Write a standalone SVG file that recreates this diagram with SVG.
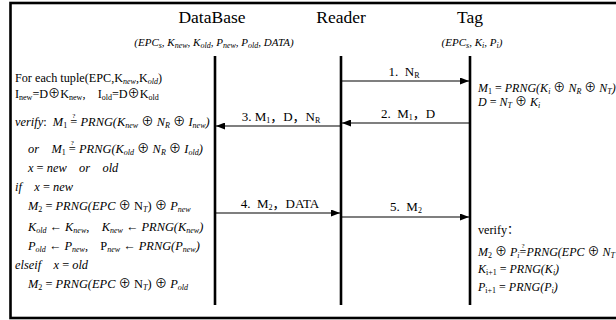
<svg xmlns="http://www.w3.org/2000/svg" width="616" height="320" viewBox="0 0 616 320">
<defs>
<style>
.t{font-family:"Liberation Serif","Times New Roman","Noto Sans CJK SC",serif;fill:#000;white-space:pre}
.h{font-size:17.5px}
.m{font-size:12.4px;font-style:italic}
.mr{font-size:12px;font-style:italic}
.rg{font-size:12.2px}
.up{font-style:normal}
.sb{font-size:8px}
.q{font-size:7px;font-style:normal}
.sm{font-size:11px;font-style:italic}
.lab{font-size:13px}
.life{stroke:#000;stroke-width:2.6}
.msg{stroke:#000;stroke-width:1.2;fill:none;marker-end:url(#ah)}
</style>
<marker id="ah" markerUnits="userSpaceOnUse" markerWidth="9" markerHeight="7" refX="9" refY="3.5" orient="auto">
<path d="M0,0 L9,3.5 L0,7 z" fill="#000"/>
</marker>
</defs>
<rect width="616" height="320" fill="#fff"/>
<rect x="10.5" y="3" width="640" height="315" fill="none" stroke="#000" stroke-width="2.6"/>

<g id="database">
<text class="t h" x="212" y="23" text-anchor="middle">DataBase</text>
<text class="t sm" x="214" y="46" text-anchor="middle">(EPC<tspan class="sb" dy="2">s</tspan><tspan dy="-2">, K</tspan><tspan class="sb" dy="2">new</tspan><tspan dy="-2">, K</tspan><tspan class="sb" dy="2">old</tspan><tspan dy="-2">, P</tspan><tspan class="sb" dy="2">new</tspan><tspan dy="-2">, P</tspan><tspan class="sb" dy="2">old</tspan><tspan dy="-2">, DATA)</tspan></text>
<line class="life" x1="215" y1="56" x2="215" y2="305"/>
<text class="t rg" x="15" y="82">For each tuple(EPC,K<tspan class="sb" dy="2" font-style="italic">new</tspan><tspan dy="-2">,K</tspan><tspan class="sb" dy="2" font-style="italic">old</tspan><tspan dy="-2">)</tspan></text>
<text class="t rg" x="15" y="98">I<tspan class="sb" dy="2">new</tspan><tspan dy="-2">=D⊕K</tspan><tspan class="sb" dy="2">new</tspan><tspan dy="-2">,    I</tspan><tspan class="sb" dy="2">old</tspan><tspan dy="-2">=D⊕K</tspan><tspan class="sb" dy="2">old</tspan></text>
<text class="t m" x="15" y="126">verify<tspan class="up">:  </tspan>M<tspan class="sb up" dy="2">1</tspan><tspan class="up" dy="-2"> =</tspan><tspan class="q" dx="-5" dy="-8">?</tspan><tspan dx="2" dy="8"> PRNG(K</tspan><tspan class="sb" dy="2">new</tspan><tspan class="up" dy="-2"> ⊕ </tspan>N<tspan class="sb" dy="2">R</tspan><tspan class="up" dy="-2"> ⊕ </tspan>I<tspan class="sb" dy="2">new</tspan><tspan dy="-2">)</tspan></text>
<text class="t m" x="28" y="153">or    M<tspan class="sb up" dy="2">1</tspan><tspan class="up" dy="-2"> =</tspan><tspan class="q" dx="-5" dy="-8">?</tspan><tspan dx="2" dy="8"> PRNG(K</tspan><tspan class="sb" dy="2">old</tspan><tspan class="up" dy="-2"> ⊕ </tspan>N<tspan class="sb" dy="2">R</tspan><tspan class="up" dy="-2"> ⊕ </tspan>I<tspan class="sb" dy="2">old</tspan><tspan dy="-2">)</tspan></text>
<text class="t m" x="28" y="172">x<tspan class="up"> = </tspan>new    or    old</text>
<text class="t m" x="15" y="191">if    x<tspan class="up"> = </tspan>new</text>
<text class="t m" x="28" y="210">M<tspan class="sb up" dy="2">2</tspan><tspan class="up" dy="-2"> = </tspan>PRNG(EPC<tspan class="up"> ⊕ N</tspan><tspan class="sb" dy="2">T</tspan><tspan class="up" dy="-2">) ⊕ </tspan>P<tspan class="sb" dy="2">new</tspan></text>
<text class="t m" x="28" y="231">K<tspan class="sb" dy="2">old</tspan><tspan class="up" dy="-2"> ← </tspan>K<tspan class="sb" dy="2">new</tspan><tspan class="up" dy="-2">,    </tspan>K<tspan class="sb" dy="2">new</tspan><tspan class="up" dy="-2"> ← </tspan>PRNG(K<tspan class="sb" dy="2">new</tspan><tspan dy="-2">)</tspan></text>
<text class="t m" x="28" y="250">P<tspan class="sb" dy="2">old</tspan><tspan class="up" dy="-2"> ← </tspan>P<tspan class="sb" dy="2">new</tspan><tspan class="up" dy="-2">,    P</tspan><tspan class="sb" dy="2">new</tspan><tspan class="up" dy="-2"> ← </tspan>PRNG(P<tspan class="sb" dy="2">new</tspan><tspan dy="-2">)</tspan></text>
<text class="t m" x="15" y="269">elseif    x<tspan class="up"> = </tspan>old</text>
<text class="t m" x="28" y="288">M<tspan class="sb up" dy="2">2</tspan><tspan class="up" dy="-2"> = </tspan>PRNG(EPC<tspan class="up"> ⊕ N</tspan><tspan class="sb" dy="2">T</tspan><tspan class="up" dy="-2">) ⊕ </tspan>P<tspan class="sb" dy="2">old</tspan></text>
</g>

<g id="reader">
<text class="t h" x="341" y="23" text-anchor="middle">Reader</text>
<line class="life" x1="341" y1="56" x2="341" y2="305"/>
</g>

<g id="tag">
<text class="t h" x="470" y="23" text-anchor="middle">Tag</text>
<text class="t sm" x="472" y="46" text-anchor="middle">(EPC<tspan class="sb" dy="2">s</tspan><tspan dy="-2">, K</tspan><tspan class="sb" dy="2">i</tspan><tspan dy="-2">, P</tspan><tspan class="sb" dy="2">i</tspan><tspan dy="-2">)</tspan></text>
<line class="life" x1="470" y1="56" x2="470" y2="305"/>
<text class="t mr" x="478" y="92">M<tspan class="sb up" dy="2">1</tspan><tspan class="up" dy="-2"> = </tspan>PRNG(K<tspan class="sb" dy="2">i</tspan><tspan class="up" dy="-2"> ⊕ </tspan>N<tspan class="sb" dy="2">R</tspan><tspan class="up" dy="-2"> ⊕ </tspan>N<tspan class="sb" dy="2">T</tspan><tspan dy="-2">)</tspan></text>
<text class="t mr" x="478" y="106">D<tspan class="up"> = </tspan>N<tspan class="sb" dy="2">T</tspan><tspan class="up" dy="-2"> ⊕ </tspan>K<tspan class="sb" dy="2">i</tspan></text>
<text class="t rg" x="478" y="234">verify：</text>
<text class="t mr" x="478" y="256">M<tspan class="sb up" dy="2">2</tspan><tspan class="up" dy="-2"> ⊕ </tspan>P<tspan class="sb" dy="2">i</tspan><tspan class="up" dy="-2">=</tspan><tspan class="q" dx="-5" dy="-8">?</tspan><tspan dx="2" dy="8">PRNG(EPC</tspan><tspan class="up"> ⊕ </tspan>N<tspan class="sb" dy="2">T</tspan></text>
<text class="t mr" x="478" y="273">K<tspan class="sb up" dy="2">i+1</tspan><tspan class="up" dy="-2"> = </tspan>PRNG(K<tspan class="sb" dy="2">i</tspan><tspan dy="-2">)</tspan></text>
<text class="t mr" x="478" y="291">P<tspan class="sb up" dy="2">i+1</tspan><tspan class="up" dy="-2"> = </tspan>PRNG(P<tspan class="sb" dy="2">i</tspan><tspan dy="-2">)</tspan></text>
</g>

<g id="connectors">
<line class="msg" x1="341" y1="81" x2="469" y2="81"/>
<text class="t lab" x="404" y="76" text-anchor="middle">1.  N<tspan class="sb" dy="1.5">R</tspan></text>
<line class="msg" x1="470" y1="123" x2="342" y2="123"/>
<text class="t lab" x="408" y="118" text-anchor="middle">2.  M<tspan class="sb" dy="1.5">1</tspan><tspan dy="-1.5">，D</tspan></text>
<line class="msg" x1="341" y1="126" x2="216" y2="126"/>
<text class="t lab" x="281" y="121" text-anchor="middle">3. M<tspan class="sb" dy="1.5">1</tspan><tspan dy="-1.5">，D，N</tspan><tspan class="sb" dy="1.5">R</tspan></text>
<line class="msg" x1="215" y1="213" x2="340" y2="213"/>
<text class="t lab" x="280" y="208" text-anchor="middle">4.  M<tspan class="sb" dy="1.5">2</tspan><tspan dy="-1.5">，DATA</tspan></text>
<line class="msg" x1="341" y1="217" x2="469" y2="217"/>
<text class="t lab" x="406" y="211" text-anchor="middle">5.  M<tspan class="sb" dy="1.5">2</tspan></text>
</g>
</svg>
